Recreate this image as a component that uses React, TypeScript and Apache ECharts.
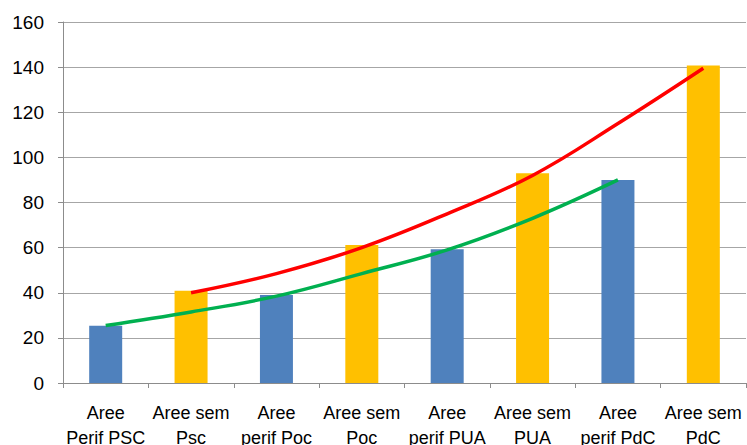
import React, { useEffect, useRef } from "react";
import * as echarts from "echarts";

const categories = [
  "Aree\nPerif PSC",
  "Aree sem\nPsc",
  "Aree\nperif Poc",
  "Aree sem\nPoc",
  "Aree\nperif PUA",
  "Aree sem\nPUA",
  "Aree\nperif PdC",
  "Aree sem\nPdC",
];
const values = [25.4, 40.9, 39, 61.2, 59.3, 93, 90, 140.7];
const greenTrend = [25.5, 31.5, 38.5, 48.5, 59, 73, 90, null];
const redTrend = [null, 40, 48.5, 60, 75, 92, 115, 139.5];
const yTicks = { min: 0, max: 160, interval: 20 };

const BLUE = "#4F81BD";
const YELLOW = "#FFC000";

export default function App() {
  const ref = useRef<HTMLDivElement>(null);
  useEffect(() => {
    if (!ref.current) return;
    const chart = echarts.init(ref.current, undefined, { renderer: "svg" });
    const font = "Liberation Sans";
    chart.setOption({
      animation: false,
      backgroundColor: "#ffffff",
      grid: {
        left: 63,
        right: 1,
        top: 22,
        bottom: 62,
        containLabel: false,
        outerBoundsMode: "none",
      },
      xAxis: {
        type: "category",
        data: categories,
        boundaryGap: true,
        axisLine: { show: true, lineStyle: { color: "#8c8c8c", width: 1 } },
        axisTick: { show: true, alignWithLabel: false, length: 5, lineStyle: { color: "#8c8c8c" } },
        axisLabel: {
          interval: 0,
          margin: 17,
          color: "#000",
          fontFamily: font,
          fontSize: 18,
          lineHeight: 25,
        },
        splitLine: { show: false },
      },
      yAxis: {
        type: "value",
        min: yTicks.min,
        max: yTicks.max,
        interval: yTicks.interval,
        axisLine: { show: true, lineStyle: { color: "#8c8c8c", width: 1 } },
        axisTick: { show: true, length: 5, lineStyle: { color: "#8c8c8c" } },
        axisLabel: {
          margin: 19,
          color: "#000",
          fontFamily: font,
          fontSize: 19,
        },
        splitLine: { show: true, lineStyle: { color: "#a6a6a6", width: 1 } },
      },
      series: [
        {
          type: "bar",
          data: values,
          barWidth: 33,
          itemStyle: {
            color: (p: any) => (p.dataIndex % 2 === 0 ? BLUE : YELLOW),
          },
          z: 2,
        },
        {
          type: "line",
          data: greenTrend,
          smooth: 0.4,
          showSymbol: false,
          symbol: "none",
          lineStyle: { color: "#00B050", width: 3.5 },
          z: 3,
        },
        {
          type: "line",
          data: redTrend,
          smooth: 0.4,
          showSymbol: false,
          symbol: "none",
          lineStyle: { color: "#FF0000", width: 3.5 },
          z: 4,
        },
      ],
    });
    return () => chart.dispose();
  }, []);
  return (
    <div
      ref={ref}
      style={{ position: "fixed", left: 0, top: 0, width: 747, height: 445, background: "#fff" }}
    />
  );
}
